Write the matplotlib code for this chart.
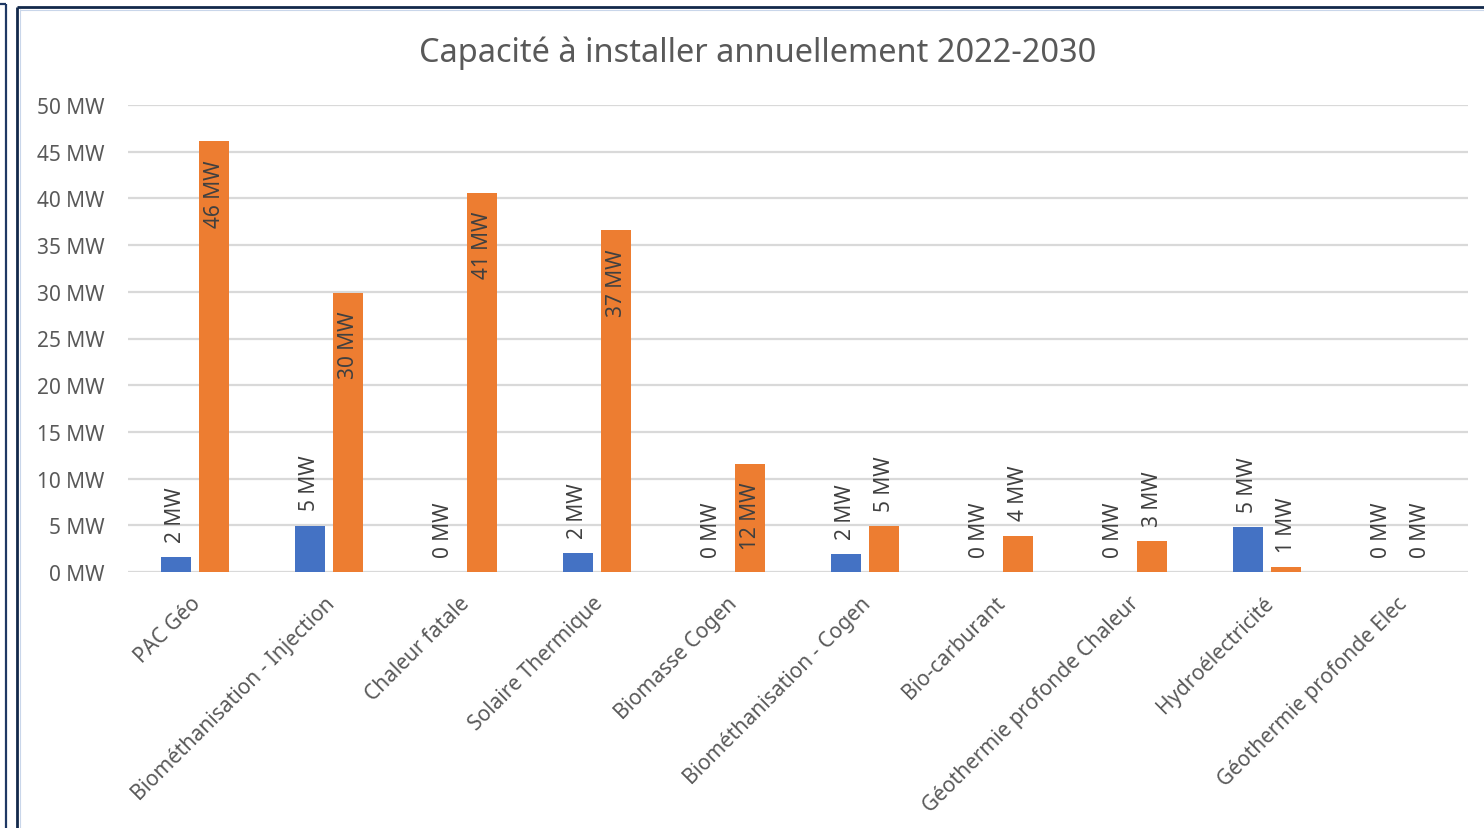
import matplotlib
matplotlib.use("Agg")
import matplotlib.pyplot as plt
import matplotlib.transforms as mtransforms
import numpy as np
from matplotlib.lines import Line2D

plt.rcParams["font.family"] = ["Noto Sans", "DejaVu Sans"]

categories = [
    "PAC Géo",
    "Biométhanisation - Injection",
    "Chaleur fatale",
    "Solaire Thermique",
    "Biomasse Cogen",
    "Biométhanisation - Cogen",
    "Bio-carburant",
    "Géothermie profonde Chaleur",
    "Hydroélectricité",
    "Géothermie profonde Elec",
]
serie_bleue = [1.6, 4.95, 0.0, 2.0, 0.0, 1.9, 0.0, 0.0, 4.8, 0.0]
serie_orange = [46.1, 29.9, 40.6, 36.6, 11.6, 4.9, 3.9, 3.3, 0.55, 0.0]
yticks = [0, 5, 10, 15, 20, 25, 30, 35, 40, 45, 50]
title = "Capacité à installer annuellement 2022-2030"

BLUE = "#4472C4"
ORANGE = "#ED7D31"
TEXT = "#595959"
LABEL = "#404040"
GRID = "#D9D9D9"
NAVY = "#13294B"

W, H = 1484, 829
fig = plt.figure(figsize=(W / 100, H / 100), dpi=100)
ax = fig.add_axes([128 / W, (H - 573) / H, 1340 / W, 467 / H])

x = np.arange(len(categories))
bw = 0.224
off = 0.142
ax.bar(x - off, serie_bleue, bw, color=BLUE, zorder=3)
ax.bar(x + off, serie_orange, bw, color=ORANGE, zorder=3)

ax.set_xlim(-0.5, len(categories) - 0.5)
ax.set_ylim(0, 50)
ax.set_yticks(yticks)
ax.set_yticklabels([f"{v} MW" for v in yticks])
ax.yaxis.grid(True, color=GRID, linewidth=1.6, zorder=0)
ax.tick_params(axis="y", length=0, pad=17, labelsize=15, labelcolor=TEXT)
for s in ax.spines.values():
    s.set_visible(False)

ax.set_xticks(x)
ax.set_xticklabels(categories, rotation=45, ha="right", va="center",
                   rotation_mode="anchor")
ax.tick_params(axis="x", length=0, pad=20, labelsize=15, labelcolor=TEXT)
shift = mtransforms.ScaledTranslation(3 / 100, 0, fig.dpi_scale_trans)
for lbl in ax.get_xticklabels():
    lbl.set_transform(lbl.get_transform() + shift)

# libellés de valeur : dans la barre si elle est assez haute, sinon au-dessus
for xs, vals in ((x - off, serie_bleue), (x + off, serie_orange)):
    for xi, v in zip(xs, vals):
        if v >= 10:
            ax.annotate(f"{v:.0f} MW", (xi, v), xytext=(0, -13),
                        textcoords="offset points", rotation=90,
                        ha="center", va="top", fontsize=15, color=LABEL,
                        zorder=4)
        else:
            ax.annotate(f"{v:.0f} MW", (xi, v), xytext=(0, 11),
                        textcoords="offset points", rotation=90,
                        ha="center", va="bottom", fontsize=15, color=LABEL,
                        zorder=4)

fig.text(758 / W, 1 - 53 / H, title, ha="center", va="center",
         fontsize=23.4, color=TEXT)

# cadres
def px_line(xs, ys, color, lw):
    fig.add_artist(Line2D([v / W for v in xs], [1 - v / H for v in ys],
                          transform=fig.transFigure, color=color, linewidth=lw,
                          solid_capstyle="butt"))

px_line([17, 17], [8, H], NAVY, 2.0)
px_line([17, W], [8, 8], NAVY, 2.0)
px_line([19.5, 19.5], [10, H], "#C9D6EA", 0.8)
px_line([19.5, W], [10.5, 10.5], "#C9D6EA", 0.8)
px_line([5.5, 5.5], [5, H], "#1F3864", 1.6)
px_line([0, 5.5], [5, 5], "#1F3864", 1.6)

fig.savefig("out.png", dpi=100)
